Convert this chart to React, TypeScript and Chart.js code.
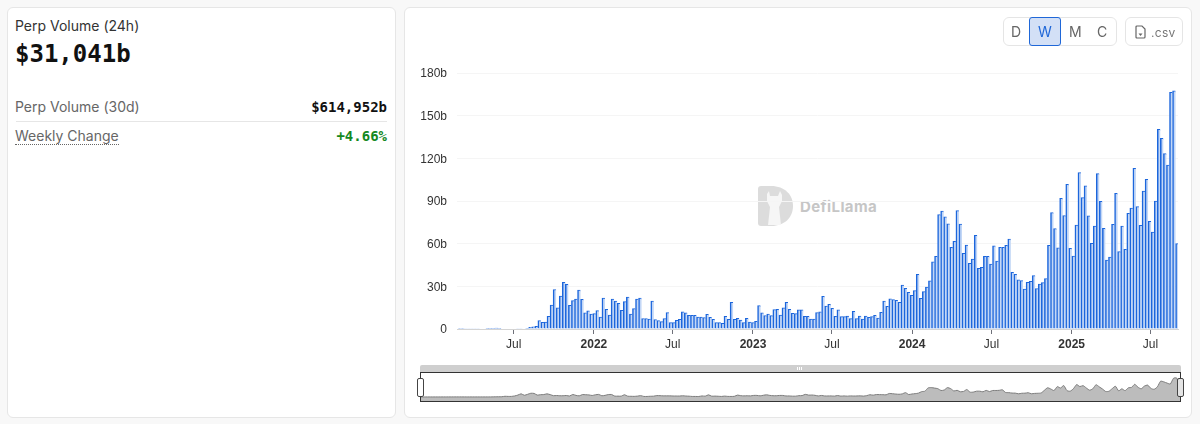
import React, { useEffect, useRef } from "react";
import { Chart, registerables } from "chart.js";

Chart.register(...registerables);

const firstWeek = Date.UTC(2021, 1, 28);
const weekMs = 7 * 86400000;

// Perp volume per week, in billions
const earlyWeeks = [0.05, 0.05, 0.1, 0.1, 0.1, 0.1, 0.2, 0.3, 0.3, 0.4, 0.5, 0.5, 0.6, 0.4, 0.3, 0.3, 0.3, 0.3, 0.3, 0.2, 0.2, 0.3, 0.5, 1.2, 1.6, 1.9];
const volume2021to22 = [5.9, 4.7, 4.9, 8.9, 16.8, 27.8, 14.8, 23.2, 32.8, 31.4, 16.7, 20, 21.1, 27.4, 20.9, 11.3, 12.7, 10.5, 10.8, 12.9, 8.4, 21.8, 13.8, 9.8, 21.1, 19.7, 18, 13.1, 19.2, 22.5, 10.5, 14.3, 21.1, 21.8, 7.3, 7.3, 7, 19.7, 6.6, 5.9, 5.2, 7.3, 11.5];
const volume2022to24 = [4.5, 4.5, 6.1, 6.8, 12, 11.3, 9.6, 9.6, 9.6, 8.4, 8.4, 8, 10.3, 8.2, 6.8, 4.5, 4.5, 4, 8.9, 6.8, 18.8, 6.8, 7.5, 6.3, 4.5, 7.5, 4.9, 4.5, 5.4, 16.4, 11.3, 9.4, 10.5, 9.4, 13.6, 13.8, 9.8, 14.8, 18.8, 13.8, 11, 10.8, 13.4, 13.4, 8.9, 8.9, 7, 7, 11.5, 12, 23, 16.2, 17.3, 14.5, 8.9, 13.4, 8.7, 8.7, 9.1, 7.3, 12.4, 7.3, 9.1, 7, 9.1, 8.2, 8.7, 9.6, 7.7, 11.7, 19.7, 15.9, 21.3, 20.6, 20.2, 18.8, 30.9, 28.6, 25.8, 23.7, 27, 38.4];
const volume2024to25 = [21.6, 26.3, 29.5, 33.8, 47.3, 51.1, 80.4, 83, 78.8, 74, 57.4, 61.6, 83.2, 73.8, 53.2, 59, 46.2, 49.2, 65.9, 42.7, 43.4, 51.1, 51.1, 45.7, 58.4, 47.8, 57.4, 57.4, 58.8, 63.3, 39.8, 38.4, 34.5, 34, 28.1, 32.8, 33.5, 37.5, 28.4, 31.6, 32.6, 35.4, 58.8, 81.8, 70.6, 57, 91.9, 79.7, 101.7, 56.7, 51.3, 73.1, 109.9, 92.4, 100.6, 79.5, 60.2, 72.4, 109.2, 89.8, 70.8, 48.5, 50.6, 73.6, 95.4, 54.4, 72.4, 56, 81.3, 85.1, 113, 86, 72.9, 97, 105.2, 75.7, 68.2, 90, 140.4, 134, 123.3, 115.3, 166.4, 167.4, 60];
const volumes = [...earlyWeeks, ...volume2021to22, ...volume2022to24, ...volume2024to25];

const xTicks: [number, string][] = [
  [Date.UTC(2021, 6, 1), "Jul"],
  [Date.UTC(2022, 0, 1), "2022"],
  [Date.UTC(2022, 6, 1), "Jul"],
  [Date.UTC(2023, 0, 1), "2023"],
  [Date.UTC(2023, 6, 1), "Jul"],
  [Date.UTC(2024, 0, 1), "2024"],
  [Date.UTC(2024, 6, 1), "Jul"],
  [Date.UTC(2025, 0, 1), "2025"],
  [Date.UTC(2025, 6, 1), "Jul"],
];
const xMin = Date.UTC(2021, 1, 21);
const xMax = Date.UTC(2025, 8, 2);

const points = volumes.map((y, i) => ({ x: firstWeek + i * weekMs, y }));

const SANS = "Inter, 'Liberation Sans', sans-serif";
const MONO = "'DejaVu Sans Mono', monospace";

const abs = (left: number, top: number, width: number, height: number, extra: React.CSSProperties = {}): React.CSSProperties => ({
  position: "absolute",
  left,
  top,
  width,
  height,
  boxSizing: "border-box",
  ...extra,
});

const txt = (left: number, top: number, text: string, extra: React.CSSProperties = {}) => (
  <div style={{ position: "absolute", left, top, whiteSpace: "nowrap", fontFamily: SANS, fontSize: 14, lineHeight: "18px", ...extra }}>{text}</div>
);

export default function App() {
  const mainRef = useRef<HTMLCanvasElement | null>(null);
  const miniRef = useRef<HTMLCanvasElement | null>(null);

  useEffect(() => {
    const labels = new Map(xTicks);
    const main = new Chart(mainRef.current!, {
      type: "bar",
      data: {
        datasets: [
          {
            data: points,
            backgroundColor: "#c3d7f6",
            borderColor: "#1c66dc",
            borderWidth: { left: 2.2, top: 1, right: 0, bottom: 0 },
            barPercentage: 1,
            categoryPercentage: 1,
          },
        ],
      },
      options: {
        animation: false,
        responsive: false,
        layout: { padding: { top: 65, right: 14, left: 0, bottom: 0 }, autoPadding: false },
        plugins: { legend: { display: false }, tooltip: { enabled: false } },
        scales: {
          x: {
            type: "linear",
            offset: false,
            min: xMin,
            max: xMax,
            afterBuildTicks: (axis: any) => {
              axis.ticks = xTicks.map(([value]) => ({ value }));
            },
            afterFit: (axis: any) => {
              axis.height = 89;
            },
            grid: { offset: false, drawOnChartArea: false, drawTicks: true, tickLength: 5, color: "#6e7079" },
            border: { display: true, color: "#d4d4d4" },
            ticks: {
              autoSkip: false,
              maxRotation: 0,
              minRotation: 0,
              padding: 3,
              color: "#333333",
              callback: (v: any) => labels.get(Number(v)) ?? "",
              font: (ctx: any) => {
                const l = labels.get(ctx.tick?.value);
                return { family: "'Liberation Sans', sans-serif", size: 12, weight: l && l !== "Jul" ? "bold" : "normal" };
              },
            },
          },
          y: {
            min: 0,
            max: 180,
            afterFit: (axis: any) => {
              axis.width = 53;
            },
            grid: { color: "#f5f5f5", drawTicks: false },
            border: { display: false },
            ticks: {
              stepSize: 30,
              padding: 10,
              labelOffset: 1,
              color: "#333333",
              font: { family: "'Liberation Sans', sans-serif", size: 12 },
              callback: (v: any) => (Number(v) === 0 ? "0" : `${v}b`),
            },
          },
        },
      },
    } as any);

    const mini = new Chart(miniRef.current!, {
      type: "line",
      data: {
        datasets: [
          {
            data: points,
            borderColor: "#7c7c7c",
            borderWidth: 1,
            backgroundColor: "#bcbcbc",
            fill: "start",
            pointRadius: 0,
            tension: 0.2,
          },
        ],
      },
      options: {
        animation: false,
        responsive: false,
        layout: { padding: 0, autoPadding: false },
        plugins: { legend: { display: false }, tooltip: { enabled: false } },
        scales: {
          x: { type: "linear", display: false, min: firstWeek, max: points[points.length - 1].x },
          y: { display: false, min: -45, max: 222 },
        },
      },
    } as any);

    return () => {
      main.destroy();
      mini.destroy();
    };
  }, []);

  const card: React.CSSProperties = { background: "#ffffff", border: "1px solid #e6e6e6", borderRadius: 6 };

  return (
    <div style={{ position: "fixed", inset: 0, background: "#f8f8f8", overflow: "hidden" }}>
      {/* left card */}
      <div style={abs(7, 7, 389, 411, card)} />
      {txt(15, 17, "Perp Volume (24h)", { color: "#333333" })}
      {txt(15, 38, "$31,041b", { fontFamily: MONO, fontWeight: 700, fontSize: 24, lineHeight: "32px", color: "#111111" })}
      {txt(15, 98, "Perp Volume (30d)", { color: "#666666" })}
      <div style={{ position: "absolute", right: 813, top: 98, fontFamily: MONO, fontWeight: 700, fontSize: 14, lineHeight: "18px", color: "#111111" }}>$614,952b</div>
      <div style={abs(16, 121, 371, 1, { background: "#e6e6e6" })} />
      {txt(15, 127, "Weekly Change", { color: "#666666", borderBottom: "1px dotted #666666", lineHeight: "17px" })}
      <div style={{ position: "absolute", right: 813, top: 127, fontFamily: MONO, fontWeight: 700, fontSize: 14, lineHeight: "18px", color: "#15891f" }}>+4.66%</div>

      {/* right card */}
      <div style={abs(404, 7, 788, 411, card)} />

      {/* watermark */}
      <svg style={{ position: "absolute", left: 757, top: 185 }} width="37" height="42" viewBox="0 0 37 42">
        <path d="M1 4 Q1 1 4 1 L14 1 C28 1 36 10 36 21 C36 32 28 41 14 41 L4 41 Q1 41 1 38 Z" fill="#dcdcdc" />
        <path d="M10 9 L12 6 L13 11 L21 11 L23 6 L25 10 L25 16 L22 22 L24 40 L11 40 L13 22 L10 16 Z" fill="#f6f6f6" />
      </svg>
      {txt(800, 198, "DefiLlama", { fontWeight: 700, fontSize: 15, color: "#c6c6c6", letterSpacing: 0.4 })}

      <canvas ref={mainRef} width={788} height={410} style={{ position: "absolute", left: 404, top: 8, width: 788, height: 410 }} />

      {/* period buttons */}
      <div style={abs(1003, 17, 114, 29, { border: "1px solid #e5e5e5", borderRadius: 6, background: "#fff" })} />
      <div style={abs(1029, 17, 32, 29, { border: "1.5px solid #1f67d8", borderRadius: 3, background: "#d3e0f6" })} />
      {txt(1011, 23, "D", { color: "#666666" })}
      {txt(1038, 23, "W", { color: "#1f67d8" })}
      {txt(1069, 23, "M", { color: "#666666" })}
      {txt(1097, 23, "C", { color: "#666666" })}

      {/* csv button */}
      <div style={abs(1125, 17, 58, 29, { border: "1px solid #e5e5e5", borderRadius: 6, background: "#fff" })} />
      <svg style={{ position: "absolute", left: 1135, top: 25 }} width="11" height="14" viewBox="0 0 11 14">
        <path d="M1 2 Q1 1 2 1 L7 1 L10 4 L10 12 Q10 13 9 13 L2 13 Q1 13 1 12 Z" fill="none" stroke="#666" strokeWidth="1.2" />
        <path d="M3.5 8.5 L5.5 11 L7.5 8.5 Z" fill="#666" />
      </svg>
      {txt(1151, 24, ".csv", { color: "#777777", fontSize: 12, letterSpacing: 0.3 })}

      {/* range slider */}
      <canvas ref={miniRef} width={759} height={30} style={{ position: "absolute", left: 421, top: 372, width: 759, height: 30 }} />
      <div style={abs(420, 365, 761, 7, { background: "#cfcfcf", borderRadius: "2px 2px 0 0" })} />
      <div style={{ position: "absolute", left: 797, top: 367, width: 1, height: 3, background: "#fff", boxShadow: "2px 0 0 #fff, 4px 0 0 #fff" }} />
      <div style={abs(420, 372, 761, 1, { background: "#333333" })} />
      <div style={abs(420, 401, 761, 1, { background: "#333333" })} />
      <div style={abs(420, 372, 1, 30, { background: "#333333" })} />
      <div style={abs(1180, 372, 1, 30, { background: "#333333" })} />
      <div style={abs(417, 378, 7, 19, { background: "#ffffff", border: "1px solid #444444", borderRadius: 2 })} />
      <div style={abs(1177, 378, 7, 19, { background: "#e4e4e4", border: "1px solid #444444", borderRadius: 2 })} />
    </div>
  );
}
